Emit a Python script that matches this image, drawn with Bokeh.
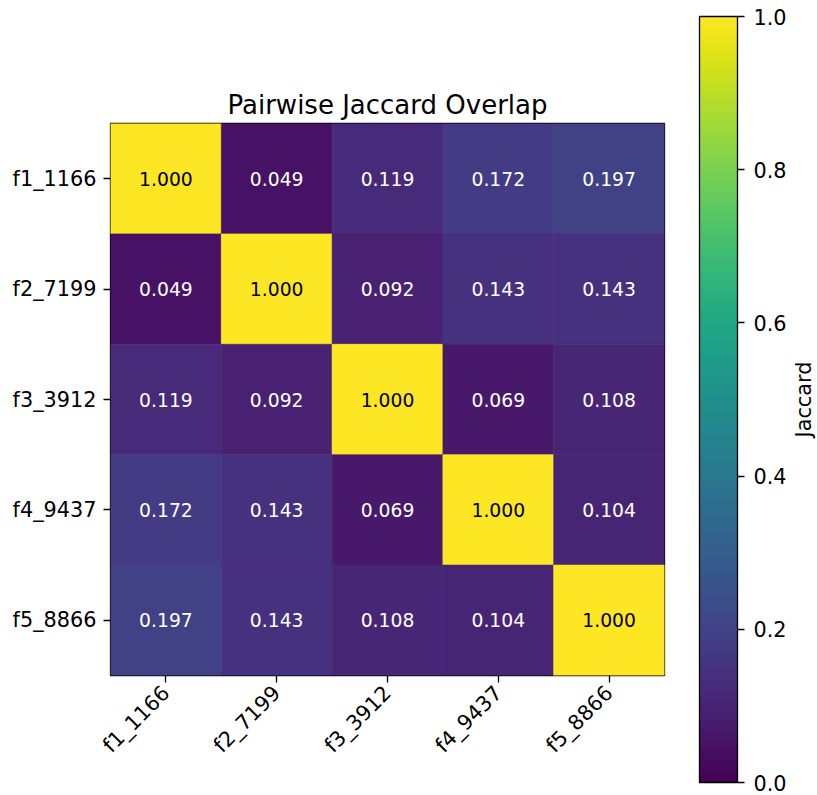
import numpy as np
from bokeh.plotting import figure
from bokeh.models import ColumnDataSource, LinearColorMapper, FixedTicker, PrintfTickFormatter, ColorBar, Label
from bokeh.palettes import Viridis256
from bokeh.transform import linear_cmap
from bokeh.core.properties import value
from bokeh.embed import file_html
from bokeh.resources import INLINE

names = ["f1_1166", "f2_7199", "f3_3912", "f4_9437", "f5_8866"]
jaccard = [
    [1.000, 0.049, 0.119, 0.172, 0.197],
    [0.049, 1.000, 0.092, 0.143, 0.143],
    [0.119, 0.092, 1.000, 0.069, 0.108],
    [0.172, 0.143, 0.069, 1.000, 0.104],
    [0.197, 0.143, 0.108, 0.104, 1.000],
]
cbar_ticks = [0.0, 0.2, 0.4, 0.6, 0.8, 1.0]

FONT = "DejaVu Sans"

xs, ys, vals, labels, tcols = [], [], [], [], []
for i, rname in enumerate(names):
    for j, cname in enumerate(names):
        v = jaccard[i][j]
        xs.append(cname)
        ys.append(rname)
        vals.append(v)
        labels.append(f"{v:.3f}")
        tcols.append("black" if v > 0.5 else "white")
src = ColumnDataSource(dict(x=xs, y=ys, v=vals, label=labels, tc=tcols))

p = figure(x_range=names, y_range=list(reversed(names)),
           width=817, height=795, output_backend="svg", toolbar_location=None,
           frame_width=554, frame_height=552,
           min_border_left=110, min_border_top=123, min_border_bottom=120, min_border_right=153,
           title="Pairwise Jaccard Overlap")
cmap = linear_cmap("v", Viridis256, 0, 1)
p.rect(x="x", y="y", width=1, height=1, source=src,
       fill_color=cmap, line_color=cmap, line_width=0.6)
p.text(x="x", y="y", text="label", source=src, text_color="tc",
       text_align="center", text_baseline="middle",
       text_font=value(FONT), text_font_size="18.75px")

p.title.align = "center"
p.title.text_font = FONT
p.title.text_font_style = "normal"
p.title.text_font_size = "26px"
p.title.text_color = "black"
p.title.standoff = 8

p.grid.visible = False
p.outline_line_color = "black"
p.outline_line_width = 1.3
p.background_fill_color = "white"
for ax in (p.xaxis[0], p.yaxis[0]):
    ax.axis_line_color = None
    ax.major_tick_line_color = "black"
    ax.major_tick_line_width = 1.3
    ax.major_tick_out = 7
    ax.major_tick_in = 0
    ax.minor_tick_line_color = None
    ax.major_label_text_font = FONT
    ax.major_label_text_font_size = "20.8px"
    ax.major_label_text_color = "black"
    ax.major_label_standoff = 7
p.xaxis.major_label_orientation = np.pi / 4

mapper = LinearColorMapper(palette=Viridis256, low=0, high=1)
cb = ColorBar(color_mapper=mapper, ticker=FixedTicker(ticks=cbar_ticks),
              formatter=PrintfTickFormatter(format="%.1f"),
              orientation="vertical", width=38, height=766, location="center",
              padding=35, margin=0,
              bar_line_color="black", bar_line_width=1.3,
              major_tick_line_color="black", major_tick_line_width=1.3,
              major_tick_out=7, major_tick_in=0, minor_tick_line_color=None,
              label_standoff=9,
              major_label_text_font=FONT, major_label_text_font_size="20.8px",
              major_label_text_color="black",
              border_line_color=None, background_fill_color=None)
p.add_layout(cb, "right")

lab = Label(x=-21, y=276, x_units="screen", y_units="screen", text="Jaccard",
            angle=np.pi / 2, text_align="center", text_baseline="middle",
            text_font=FONT, text_font_size="20.8px", text_color="black")
p.add_layout(lab, "right")

open("out.html", "w").write(file_html(p, INLINE))
